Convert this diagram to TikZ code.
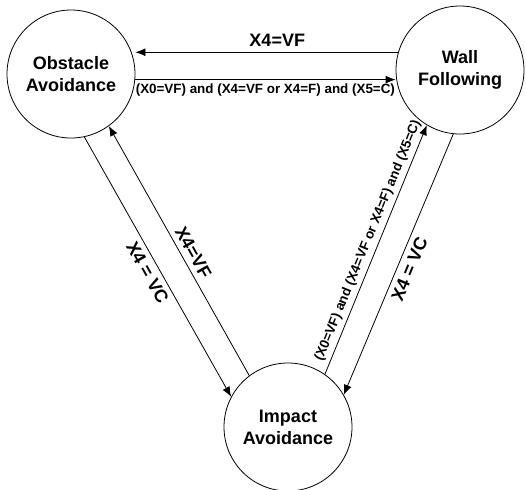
\documentclass[tikz,border=0pt]{standalone}
\usepackage{fontspec}
\setmainfont{Liberation Sans}
\usetikzlibrary{arrows.meta}

\tikzset{
  state/.style={draw, circle, thin, minimum size=64pt, inner sep=0pt, align=center, font=\fontsize{9}{11}\selectfont\bfseries},
  trans/.style={thin, -{Latex[length=5pt,width=4pt]}},
  big/.style={font=\fontsize{9}{11}\selectfont\bfseries, inner sep=2.5pt},
  small/.style={font=\fontsize{6.7}{8}\selectfont\bfseries, inner sep=2pt}
}

\begin{document}
\begin{tikzpicture}[x=0.5pt, y=-0.5pt]
\useasboundingbox (0,0) rectangle (526,489);

\node[state] (obst) at (71,74) {Obstacle\\Avoidance};
\node[state] (wall) at (460,70) {Wall\\Following};
\node[state] (impact) at (288,427) {Impact\\Avoidance};

\draw[trans] (wall.164) -- (wall.164 -| obst.east) node[pos=0.46, above, big]{X4=VF};
\draw[trans] (obst.-5) -- (obst.-5 -| wall.west) node[midway, below, small]{(X0=VF) and (X4=VF or X4=F) and (X5=C)};

\draw[trans] (obst.-78) -- (impact.152) node[midway, sloped, below, big]{X4 = VC};
\draw[trans] (impact.127) -- (obst.-54) node[pos=0.47, sloped, above, big]{X4=VF};

\draw[trans] (impact.55) -- (wall.-121) node[pos=0.52, sloped, above, small]{(X0=VF) and (X4=VF or X4=F) and (X5=C)};
\draw[trans] (wall.-96) -- (impact.30) node[midway, sloped, below, big]{X4 = VC};
\end{tikzpicture}
\end{document}
